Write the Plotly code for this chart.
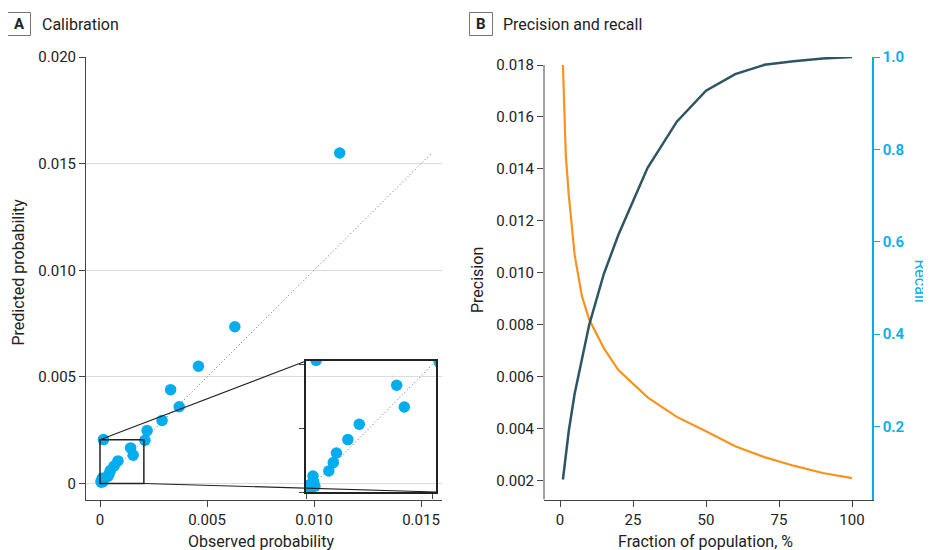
import plotly.graph_objects as go

# ---------------- data ----------------
# Panel A: calibration (observed vs predicted probability)
observed = [0.0112, 0.0063, 0.0046, 0.0033, 0.0037, 0.0029, 0.0022, 0.0021,
            0.00143, 0.00155, 0.00084, 0.00066, 0.00048, 0.00043, 0.00036,
            0.00011, 0.00012, 0.00005, 0.00014, 0.00006, 0.00016]
predicted = [0.0155, 0.00735, 0.0055, 0.0044, 0.0036, 0.00296, 0.00248, 0.00203,
             0.00167, 0.00133, 0.00106, 0.00082, 0.00061, 0.00046, 0.00033,
             0.00025, 0.00016, 0.00011, 0.00009, 0.00006, 0.00206]
a_ticks = [0, 0.005, 0.010, 0.015, 0.020]
a_ticktext = ["0", "0.005", "0.010", "0.015", "0.020"]
inset_max = 0.00205

# Panel B: precision and recall by fraction of population
fraction = [1, 2, 3, 5, 7.5, 10, 15, 20, 30, 40, 50, 60, 70, 80, 90, 100]
precision = [0.0180, 0.0145, 0.0130, 0.0107, 0.0091, 0.0082, 0.0071, 0.00625,
             0.0052, 0.00445, 0.0039, 0.00332, 0.0029, 0.00257, 0.00229, 0.00209]
recall = [0.085, 0.14, 0.19, 0.27, 0.345, 0.42, 0.53, 0.615,
          0.76, 0.86, 0.927, 0.963, 0.983, 0.991, 0.997, 1.0]
b_xticks = [0, 25, 50, 75, 100]
prec_ticks = [0.002, 0.004, 0.006, 0.008, 0.010, 0.012, 0.014, 0.016, 0.018]
rec_ticks = [0.2, 0.4, 0.6, 0.8, 1.0]

# ---------------- style ----------------
W, H = 923, 542        # fits the 931x550 window with the page's 8px body margin
OX, OY = 8, 8          # page offset of the figure inside the browser window
FONT = "Roboto, Open Sans, sans-serif"
TXT = "#222222"
AXC = "#444444"
CYAN = "#00AEEF"
ORANGE = "#F7931E"
DARK = "#2E5563"
GRID = "#DCDCDC"


def px(x):
    return (x - OX) / W


def py(y):
    return 1 - (y - OY) / H


# domains (from screen pixel positions)
A_dom_x = [px(86), px(442)]
B_dom_x = [px(544), px(872)]
dom_y = [py(499.5), py(57)]
ins_dom_x = [px(306), px(436)]
ins_dom_y = [py(492), py(361)]

A_xrange = [-0.000654, 0.01598]
A_yrange = [-0.00075, 0.020]
B_xrange = [-5.48, 106.85]
B_yrange = [0.001268, 0.01831]
B_y2range = [0.0417, 1.0]


def a_to_paper(xv, yv):
    fx = (xv - A_xrange[0]) / (A_xrange[1] - A_xrange[0])
    fy = (yv - A_yrange[0]) / (A_yrange[1] - A_yrange[0])
    return (A_dom_x[0] + fx * (A_dom_x[1] - A_dom_x[0]),
            dom_y[0] + fy * (dom_y[1] - dom_y[0]))


fig = go.Figure()

DOT = dict(color="#666666", width=1, dash="1px,2.5px")
MS = 11.5

# ---- Panel A main ----
dmax = max(predicted)
fig.add_trace(go.Scatter(x=[0, dmax], y=[0, dmax], mode="lines", line=DOT,
                         xaxis="x", yaxis="y", showlegend=False, hoverinfo="skip"))
fig.add_trace(go.Scatter(x=observed, y=predicted, mode="markers",
                         marker=dict(color=CYAN, size=MS),
                         xaxis="x", yaxis="y", showlegend=False))

# ---- Panel A inset ----
fig.add_trace(go.Scatter(x=[0, dmax], y=[0, dmax], mode="lines", line=DOT,
                         xaxis="x3", yaxis="y3", showlegend=False, hoverinfo="skip"))
fig.add_trace(go.Scatter(x=observed, y=predicted, mode="markers",
                         marker=dict(color=CYAN, size=MS),
                         xaxis="x3", yaxis="y3", showlegend=False))

# ---- Panel B ----
fig.add_trace(go.Scatter(x=fraction, y=precision, mode="lines",
                         line=dict(color=ORANGE, width=2.2),
                         xaxis="x2", yaxis="y2", showlegend=False, name="Precision"))
fig.add_trace(go.Scatter(x=fraction, y=recall, mode="lines",
                         line=dict(color=DARK, width=2.5),
                         xaxis="x2", yaxis="y4", showlegend=False, name="Recall"))

tickfont = dict(family=FONT, size=15, color=TXT)

fig.update_layout(
    width=W, height=H,
    margin=dict(l=0, r=0, t=0, b=0, autoexpand=False),
    paper_bgcolor="white",
    plot_bgcolor="rgba(0,0,0,0)",
    font=dict(family=FONT, color=TXT),
    xaxis=dict(domain=A_dom_x, range=A_xrange, anchor="y", automargin=False,
               tickvals=a_ticks[:4], ticktext=a_ticktext[:4],
               showline=True, linecolor=AXC, linewidth=1,
               ticks="outside", ticklen=6, tickcolor=AXC,
               showgrid=False, zeroline=False, tickfont=tickfont),
    yaxis=dict(domain=dom_y, range=A_yrange, anchor="x", automargin=False,
               tickvals=a_ticks, ticktext=a_ticktext,
               showline=True, linecolor=AXC, linewidth=1,
               ticks="outside", ticklen=6, tickcolor=AXC,
               showgrid=True, gridcolor=GRID, gridwidth=1,
               zeroline=False, tickfont=tickfont),
    xaxis3=dict(domain=ins_dom_x, range=[0, inset_max], anchor="y3", automargin=False,
                tickvals=[0, 0.002], showticklabels=False,
                showline=True, mirror=True, linecolor="#222222", linewidth=1.5,
                ticks="outside", ticklen=5, tickcolor=AXC,
                showgrid=False, zeroline=False),
    yaxis3=dict(domain=ins_dom_y, range=[0, inset_max], anchor="x3", automargin=False,
                tickvals=[0, 0.001, 0.002], showticklabels=False,
                showline=True, mirror=True, linecolor="#222222", linewidth=1.5,
                ticks="outside", ticklen=5, tickcolor=AXC,
                showgrid=False, zeroline=False),
    xaxis2=dict(domain=B_dom_x, range=B_xrange, anchor="y2", automargin=False,
                tickvals=b_xticks,
                showline=True, linecolor=AXC, linewidth=1,
                ticks="outside", ticklen=6, tickcolor=AXC,
                showgrid=False, zeroline=False, tickfont=tickfont),
    yaxis2=dict(domain=dom_y, range=B_yrange, anchor="x2", automargin=False,
                tickvals=prec_ticks, ticktext=[f"{v:.3f}" for v in prec_ticks],
                showline=False,
                ticks="outside", ticklen=6, tickcolor=AXC,
                showgrid=False, zeroline=False, tickfont=tickfont),
    yaxis4=dict(domain=dom_y, range=B_y2range, anchor="x2", overlaying="y2",
                side="right", automargin=False,
                tickvals=rec_ticks, ticktext=[f"{v:.1f}" for v in rec_ticks],
                showline=True, linecolor=CYAN, linewidth=1.5,
                ticks="outside", ticklen=6, tickcolor=CYAN,
                showgrid=False, zeroline=False,
                tickfont=dict(family=FONT, size=15, color=CYAN, weight=600)),
)

shapes = []
# zoom box in main panel A
shapes.append(dict(type="rect", xref="x", yref="y", x0=0, y0=0,
                   x1=inset_max, y1=inset_max,
                   line=dict(color="#222222", width=1.5)))
# connector lines from zoom box to inset
p0 = a_to_paper(0, inset_max)
p1 = a_to_paper(inset_max, 0)
shapes.append(dict(type="line", xref="paper", yref="paper",
                   x0=p0[0], y0=p0[1], x1=ins_dom_x[0], y1=ins_dom_y[1],
                   line=dict(color="#222222", width=1.2)))
shapes.append(dict(type="line", xref="paper", yref="paper",
                   x0=p1[0], y0=p1[1], x1=ins_dom_x[1], y1=ins_dom_y[0],
                   line=dict(color="#222222", width=1.2)))
# panel B left axis line (ends at top tick)
shapes.append(dict(type="line", xref="x2 domain", yref="y2",
                   x0=0, x1=0, y0=B_yrange[0], y1=prec_ticks[-1],
                   line=dict(color=AXC, width=1)))
# panel label boxes
for (x0, x1) in [(7.5, 30.5), (469.5, 492.5)]:
    shapes.append(dict(type="rect", xref="paper", yref="paper",
                       x0=px(x0), x1=px(x1), y0=py(35.5), y1=py(12.5),
                       line=dict(color="#777777", width=1)))
fig.update_layout(shapes=shapes)

ann = []


def label(text, x, y, size=16, color=TXT, angle=0, xanchor="center"):
    ann.append(dict(text=text, x=px(x), y=py(y), xref="paper", yref="paper",
                    showarrow=False, textangle=angle,
                    font=dict(family=FONT, size=size, color=color),
                    xanchor=xanchor, yanchor="middle"))


label("<b>A</b>", 19, 24.5, size=15)
label("Calibration", 40, 24, xanchor="left")
label("<b>B</b>", 481, 24.5, size=15)
label("Precision and recall", 501, 24, xanchor="left")
label("Predicted probability", 17.5, 272, angle=-90)
label("Observed probability", 261, 541)
label("Precision", 477, 280, angle=-90)
label("Fraction of population, %", 705, 541)
label("Recall", 920.5, 281, color=CYAN, angle=90)
fig.update_layout(annotations=ann)

fig.write_html("out.html")
